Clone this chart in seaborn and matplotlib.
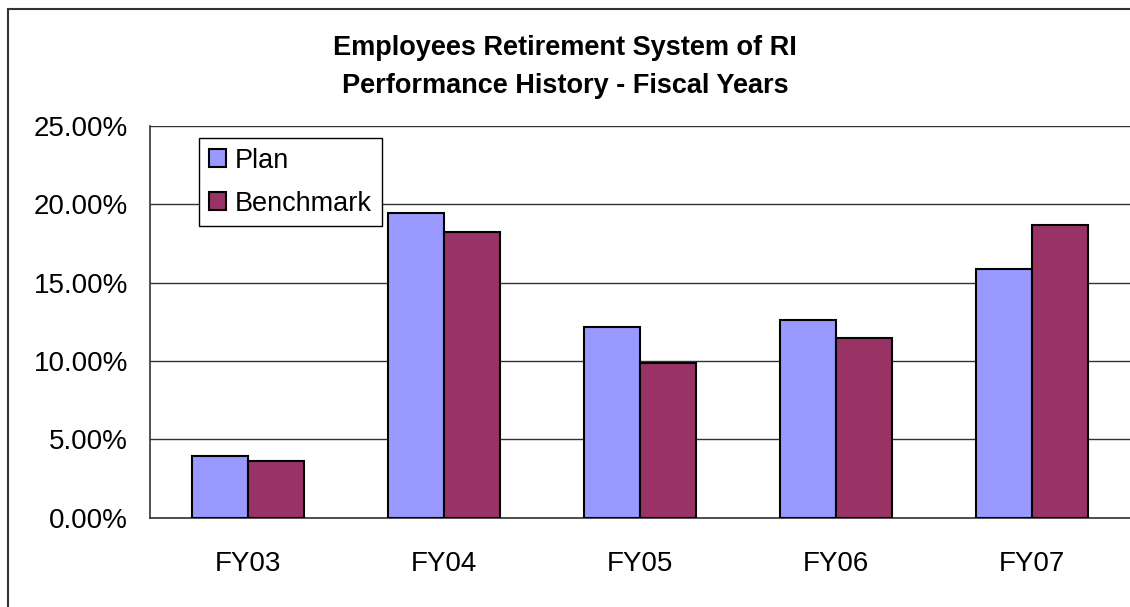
import matplotlib
matplotlib.use("Agg")
import matplotlib.pyplot as plt
from matplotlib.patches import Patch, Rectangle
import seaborn as sns
import pandas as pd

categories = ["FY03", "FY04", "FY05", "FY06", "FY07"]
plan = [3.92, 19.46, 12.16, 12.60, 15.86]
benchmark = [3.60, 18.22, 9.90, 11.48, 18.69]
series = ["Plan", "Benchmark"]
colors = ["#9999FF", "#993366"]
yticks = [0, 5, 10, 15, 20, 25]
title = "Employees Retirement System of RI\nPerformance History - Fiscal Years"

df = pd.DataFrame({
    "Year": categories * 2,
    "Return": plan + benchmark,
    "Series": ["Plan"] * len(categories) + ["Benchmark"] * len(categories),
})

sns.set_style("white")
plt.rcParams["font.family"] = ["Liberation Sans", "DejaVu Sans"]
plt.rcParams["text.color"] = "black"
plt.rcParams["xtick.color"] = "black"
plt.rcParams["ytick.color"] = "black"

W, H = 1130, 607
fig = plt.figure(figsize=(W / 100, H / 100), dpi=100)
left, right, bottom, top = 150, 1130, 607 - 517.7, 607 - 126
ax = fig.add_axes([left / W, bottom / H, (right - left) / W, (top - bottom) / H])

sns.barplot(data=df, x="Year", y="Return", hue="Series", hue_order=series,
            palette=colors, width=0.574, edgecolor="black", linewidth=1.5,
            saturation=1, ax=ax, legend=False, zorder=3)

ax.set_xlim(-0.5, 4.462)
ax.set_ylim(0, 25)
ax.set_yticks(yticks)
ax.set_yticklabels([f"{v:.2f}%" for v in yticks])
ax.yaxis.grid(True, color="#333333", linewidth=1.0, zorder=0)
ax.set_axisbelow(True)
ax.set_xlabel("")
ax.set_ylabel("")

ax.set_xticks(range(len(categories)))
ax.set_xticklabels(categories)
ax.tick_params(axis="x", which="major", length=0, pad=24, labelsize=20, labelcolor="black")
ax.set_xticks([i + 0.5 for i in range(-1, len(categories))], minor=True)
ax.tick_params(axis="x", which="minor", length=6, width=1, color="#333333", direction="out")
ax.tick_params(axis="y", length=6, width=1, color="#333333", direction="out", pad=10,
               labelsize=20, labelcolor="black")

for s in ["top", "right"]:
    ax.spines[s].set_visible(False)
for s in ["left", "bottom"]:
    ax.spines[s].set_color("#333333")
    ax.spines[s].set_linewidth(1.2)

handles = [Patch(facecolor=c, edgecolor="black", linewidth=1.5, label=s) for c, s in zip(colors, series)]
leg = ax.legend(handles=handles, loc="upper left", bbox_to_anchor=(0.0503, 0.9686),
                borderaxespad=0, fontsize=19.5, frameon=True, fancybox=False,
                edgecolor="black", framealpha=1, handlelength=0.62, handleheight=0.62,
                handletextpad=0.35, labelspacing=0.62, borderpad=0.35)
leg.get_frame().set_linewidth(1.0)
leg.set_zorder(5)
for t in leg.get_texts():
    t.set_color("black")

fig.text(565 / W, 1 - 67 / H, title, ha="center", va="center", fontsize=19.5,
         fontweight="bold", linespacing=1.6, color="black")

fig.patches.append(Rectangle((8 / W, -0.1), 1.2, (H - 9) / H + 0.1, transform=fig.transFigure,
                             fill=False, edgecolor="#333333", linewidth=1.5))

fig.savefig("out.png", dpi=100)
